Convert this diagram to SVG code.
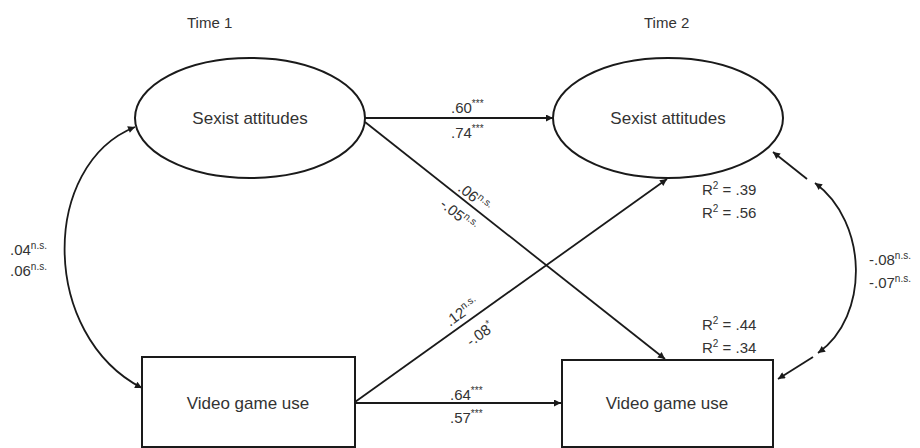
<svg xmlns="http://www.w3.org/2000/svg" width="920" height="448" viewBox="0 0 920 448">
<style>
text{font-family:"Liberation Sans",Arial,sans-serif;fill:#333}
.node{fill:#fff;stroke:#1a1a1a;stroke-width:2}
.lbl{font-size:17px;text-anchor:middle}
.c{font-size:15px}
.sup{font-size:10px}
.hd{font-size:15px}
.ln{fill:none;stroke:#1a1a1a;stroke-width:1.8}
</style>
<defs>
<marker id="ah" viewBox="0 0 10 10" refX="10" refY="5" markerWidth="9" markerHeight="7" markerUnits="userSpaceOnUse" orient="auto-start-reverse">
<path d="M0,0 L10,5 L0,10 z" fill="#1a1a1a"/>
</marker>
</defs>
<rect width="920" height="448" fill="#fff"/>
<text class="hd" x="187" y="28">Time 1</text>
<text class="hd" x="644" y="28">Time 2</text>
<g id="connectors">
<line class="ln" x1="365" y1="118" x2="553" y2="118" marker-end="url(#ah)"/>
<line class="ln" x1="355" y1="403" x2="561" y2="403" marker-end="url(#ah)"/>
<line class="ln" x1="365" y1="122" x2="665" y2="359" marker-end="url(#ah)"/>
<line class="ln" x1="355" y1="402" x2="667" y2="179" marker-end="url(#ah)"/>
<path class="ln" d="M135,127 C40,165 40,335 142,388" marker-start="url(#ah)" marker-end="url(#ah)"/>
<path class="ln" d="M815,183 C868,222 870,316 818,353" marker-start="url(#ah)" marker-end="url(#ah)"/>
<line class="ln" x1="807" y1="179" x2="773" y2="152" marker-end="url(#ah)"/>
<line class="ln" x1="813" y1="357" x2="778" y2="379" marker-end="url(#ah)"/>
</g>
<g id="sexist1"><ellipse class="node" cx="250" cy="118" rx="115" ry="60"/><text class="lbl" x="250" y="124">Sexist attitudes</text></g>
<g id="sexist2"><ellipse class="node" cx="668" cy="118" rx="115" ry="60"/><text class="lbl" x="668" y="124">Sexist attitudes</text></g>
<g id="video1"><rect class="node" x="142" y="357" width="213" height="90"/><text class="lbl" x="248" y="409">Video game use</text></g>
<g id="video2"><rect class="node" x="562" y="360" width="211" height="87"/><text class="lbl" x="667" y="409">Video game use</text></g>
<g id="labels">
<text class="c" x="451" y="113">.60<tspan class="sup" dy="-6">***</tspan></text>
<text class="c" x="451" y="138">.74<tspan class="sup" dy="-6">***</tspan></text>
<text class="c" x="450" y="400">.64<tspan class="sup" dy="-6">***</tspan></text>
<text class="c" x="450" y="423">.57<tspan class="sup" dy="-6">***</tspan></text>
<text class="c" x="10" y="255">.04<tspan class="sup" dy="-6">n.s.</tspan></text>
<text class="c" x="10" y="276">.06<tspan class="sup" dy="-6">n.s.</tspan></text>
<text class="c" x="869" y="265">-.08<tspan class="sup" dy="-6">n.s.</tspan></text>
<text class="c" x="869" y="288">-.07<tspan class="sup" dy="-6">n.s.</tspan></text>
<text class="c" transform="translate(457,190) rotate(38.5)">.06<tspan class="sup" dy="-6">n.s.</tspan></text>
<text class="c" transform="translate(439,206) rotate(38.5)">-.05<tspan class="sup" dy="-6">n.s.</tspan></text>
<text class="c" transform="translate(450,327) rotate(-36)">.12<tspan class="sup" dy="-6">n.s.</tspan></text>
<text class="c" transform="translate(471,347) rotate(-36)">-.08<tspan class="sup" dy="-6">*</tspan></text>
<text class="c" x="702" y="195">R<tspan class="sup" dy="-6">2</tspan><tspan dy="6"> = .39</tspan></text>
<text class="c" x="702" y="218">R<tspan class="sup" dy="-6">2</tspan><tspan dy="6"> = .56</tspan></text>
<text class="c" x="702" y="330">R<tspan class="sup" dy="-6">2</tspan><tspan dy="6"> = .44</tspan></text>
<text class="c" x="702" y="353">R<tspan class="sup" dy="-6">2</tspan><tspan dy="6"> = .34</tspan></text>
</g>
</svg>
